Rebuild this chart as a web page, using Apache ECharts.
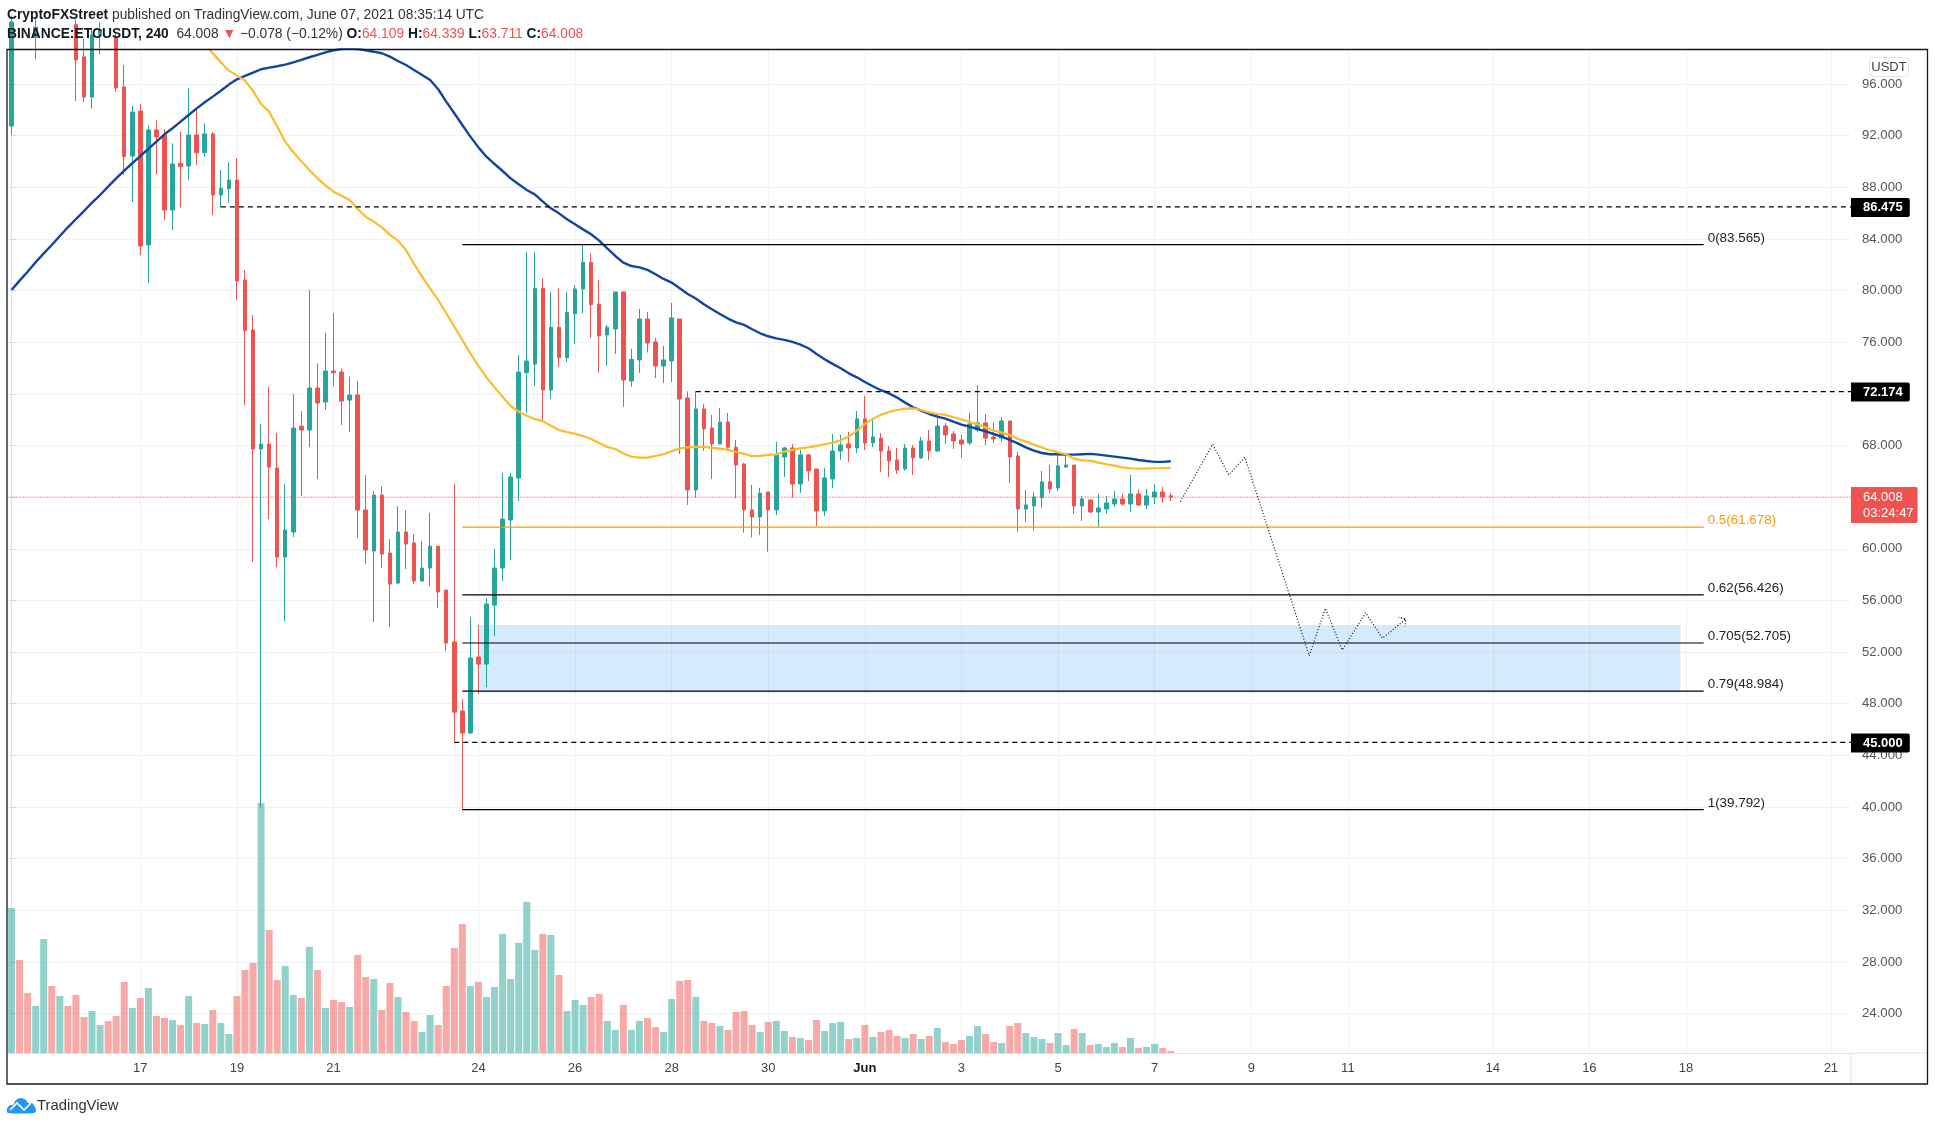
<!DOCTYPE html>
<html>
<head>
<meta charset="utf-8">
<title>ETCUSDT</title>
<script src="https://cdn.jsdelivr.net/npm/echarts@6/dist/echarts.min.js"></script>
<style>
html, body { margin: 0; padding: 0; background: #fff; }
#main { width: 1935px; height: 1126px; }
</style>
</head>
<body>
<div id="main"></div>
<script>
// 4h candles, May 14 08:00 -> Jun 7 08:00
var opens = [
    92.75, 100.8, 100.1, 99.6, 100.4, 102, 101.2, 101.8, 100.6, 98.1,
    94.99, 99.8, 100.2, 99.6, 95.77, 90.42, 93.9, 83.53, 92.44, 92.05,
    86.24, 89.86, 89.65, 92.05, 90.68, 92.13, 87.4, 87.9, 88.56, 80.82,
    76.95, 67.73, 68.11, 66.25, 59.36, 61.3, 69.5, 69.2, 72.45, 71.37,
    73.77, 73.69, 71.52, 71.91, 63, 59.83, 64.16, 59.67, 57.35, 61.3,
    60.45, 57.5, 58.51, 60.2, 56.8, 52.78, 47.43, 45.73, 51.62, 51.07,
    55.64, 58.51, 62.23, 65.48, 73.64, 74.3, 80.17, 72.3, 77.15, 74.8,
    78.2, 80.12, 82.19, 78.95, 76.56, 77.02, 79.89, 73.0, 74.63, 77.8,
    76.02, 74.16, 74.55, 77.8, 71.68, 64.56, 70.83, 69.36, 68.12, 69.82,
    67.86, 66.57, 63.01, 62.47, 64.4, 63.01, 67.11, 67.81, 65.02, 67.27,
    66.18, 62.93, 65.41, 67.58, 68.12, 67.81, 70.06, 68.2, 68.58, 67.58,
    66.88, 66.18, 67.81, 67.04, 68.35, 67.58, 69.51, 68.89, 68.43, 68.2,
    69.2, 69.75, 68.66, 68.58, 69.9, 67.19, 63.08, 63.32, 63.96, 65.18,
    64.71, 66.34, 66.49, 63.32, 63.78, 62.85, 63.08, 63.47, 63.86, 63.47,
    64.25, 63.39, 64.01, 64.4, 64.109
];
var closes = [
    100.8, 100.1, 99.6, 100.4, 102, 101.2, 101.8, 100.6, 97.86, 94.99,
    99.8, 100.2, 99.6, 95.69, 90.37, 93.83, 83.45, 92.44, 91.9, 86.24,
    89.8, 89.6, 92.05, 90.68, 92.13, 87.4, 87.92, 88.56, 80.74, 76.9,
    67.73, 68.11, 66.33, 59.36, 61.45, 69.35, 69.2, 72.45, 71.29, 73.77,
    73.64, 71.44, 71.91, 63, 59.9, 64.16, 59.6, 57.27, 61.3, 60.37,
    57.5, 58.51, 60.2, 56.65, 52.7, 47.35, 45.73, 51.54, 51.07, 55.72,
    58.51, 62.3, 65.56, 73.69, 74.54, 80.17, 72.3, 77.15, 74.8, 78.3,
    80.12, 82.19, 78.9, 76.5, 77.15, 79.89, 73.07, 74.67, 77.8, 75.94,
    74.16, 74.63, 77.88, 71.6, 64.56, 70.83, 69.28, 68.12, 69.82, 67.86,
    66.49, 63.01, 62.47, 64.3, 63.01, 67.27, 67.81, 65.02, 67.27, 66.03,
    62.93, 65.49, 67.58, 68.04, 67.81, 70.06, 68.2, 68.66, 67.58, 66.8,
    66.1, 67.81, 67.04, 68.35, 67.58, 69.51, 68.82, 68.35, 68.12, 69.67,
    69.75, 68.58, 68.51, 69.9, 67.11, 63.08, 63.4, 64.02, 65.18, 64.63,
    66.42, 66.49, 63.32, 63.86, 62.85, 63.16, 63.55, 63.86, 63.47, 64.25,
    63.39, 64.09, 64.4, 64.01, 64.008
];
var lows = [
    92.05, 99.5, 99.1, 97.94, 100, 100.7, 100.8, 100, 94.68, 94.6,
    94.09, 98.3, 99.2, 95.38, 88.95, 86.86, 82.76, 80.59, 89, 85.46,
    84.69, 86.45, 88.56, 89.72, 90.35, 85.85, 86.45, 86.81, 79.27, 71.13,
    58.97, 39.95, 62.3, 58.59, 54.4, 60.91, 64.09, 67.88, 65.4, 70.75,
    72.6, 69.58, 69.04, 60.83, 58.82, 54.33, 58.51, 53.94, 57.27, 58.43,
    57.27, 57.5, 57.1, 55.41, 52.08, 45, 39.82, 45.68, 48.75, 49.29,
    53.24, 57.5, 59.13, 63.7, 70.54, 72.6, 69.97, 71.6, 74.1, 74.47,
    75.86, 78.24, 76.35, 73.64, 74.18, 75.1, 71, 72.55, 73.62, 75.2,
    73.23, 72.85, 72.92, 67.35, 63.4, 63.96, 67.58, 65.41, 68.12, 67.66,
    63.91, 61.25, 60.87, 61.07, 59.78, 62.62, 65.56, 63.96, 64.33, 65.25,
    61.77, 62.54, 64.71, 66.88, 66.73, 67.42, 67.66, 67.89, 65.95, 65.56,
    65.8, 66.03, 65.72, 66.96, 66.88, 67.5, 68.12, 67.73, 67.04, 68.04,
    69.05, 68.04, 68.2, 68.28, 65.1, 61.31, 62.08, 61.41, 63.16, 64.33,
    64.48, 66.26, 62.7, 62.16, 62.78, 61.67, 62.7, 63.24, 63.32, 62.85,
    63.32, 63.08, 63.47, 63.55, 63.711
];
var highs = [
    101.3, 101.5, 101, 101, 102.6, 102.4, 102.2, 102, 101, 99.5,
    100.3, 100.8, 100.6, 100, 97.47, 94.3, 94.45, 92.8, 93.2, 92.49,
    91.4, 92.3, 95.69, 94.1, 92.95, 92.28, 89.34, 89.93, 90.27, 81.6,
    78.1, 69.66, 72.55, 68.97, 65, 71.99, 70.67, 80.05, 74.36, 76.74,
    78.24, 73.97, 73.33, 72.99, 65.71, 64.47, 64.86, 60.75, 63.3, 63,
    61.14, 60.6, 62.77, 60.2, 56.8, 65, 48.36, 54.71, 54.1, 56.19,
    59.98, 65.87, 65.87, 75, 82.99, 82.99, 80.95, 79.89, 80.17, 79.89,
    80.43, 83.53, 82.88, 80.82, 77.33, 79.89, 79.89, 75.5, 78.58, 78.35,
    76.33, 75.71, 79.04, 77.8, 72.2, 72.2, 71.22, 70.37, 70.91, 70.52,
    68.43, 66.65, 64.95, 64.71, 64.4, 68.28, 67.91, 68.12, 67.66, 67.35,
    66.18, 66.26, 68.89, 68.82, 69.05, 70.68, 71.84, 69.98, 68.97, 67.97,
    67.81, 68.12, 68.04, 68.66, 69.2, 70.37, 69.75, 69.13, 68.82, 70.52,
    72.69, 70.44, 69.82, 70.21, 69.9, 67.5, 64.56, 64.4, 66.03, 66.49,
    67.4, 67.27, 66.49, 64.09, 63.78, 64.25, 64.09, 64.48, 64.25, 65.72,
    64.63, 64.63, 65.02, 64.79, 64.339
];
var volumes = [
    145, 93, 60, 47, 114, 67, 57, 47, 58, 36,
    42, 28, 32, 37, 71, 45, 55, 65, 37, 35,
    33, 28, 57, 30, 29, 43, 30, 19, 57, 83,
    90, 250, 123, 73, 87, 58, 55, 106, 83, 45,
    53, 51, 46, 98, 76, 74, 43, 70, 56, 41,
    32, 21, 38, 28, 67, 105, 129, 67, 71, 56,
    66, 119, 74, 110, 151, 103, 119, 118, 78, 42,
    53, 48, 56, 59, 32, 23, 48, 23, 32, 35,
    26, 21, 54, 72, 73, 56, 32, 30, 27, 23,
    41, 42, 28, 21, 31, 32, 22, 16, 15, 13,
    33, 22, 30, 31, 14, 15, 28, 16, 21, 23,
    17, 15, 19, 14, 17, 25, 11, 9, 13, 17,
    27, 19, 11, 10, 27, 30, 20, 16, 14, 10,
    20, 8, 24, 20, 8, 9, 6, 10, 6, 15,
    5, 6, 9, 5, 2
];
var blueAvg = [
    80.04, 80.77, 81.46, 82.19, 82.88, 83.53, 84.23, 84.90, 85.54, 86.16,
    86.81, 87.40, 88.05, 88.69, 89.29, 89.86, 90.42, 90.97, 91.53, 92.10,
    92.57, 93.08, 93.60, 94.11, 94.58, 95.02, 95.48, 95.95, 96.36, 96.62,
    96.88, 97.14, 97.27, 97.37, 97.50, 97.68, 97.86, 98.07, 98.25, 98.45,
    98.61, 98.71, 98.74, 98.71, 98.61, 98.50, 98.38, 98.12, 97.78, 97.47,
    97.08, 96.70, 96.31, 95.59, 94.63, 93.73, 92.82, 91.92, 91.09, 90.37,
    89.80, 89.26, 88.69, 88.23, 87.79, 87.45, 86.89, 86.37, 85.98, 85.52,
    85.13, 84.74, 84.36, 83.87, 83.27, 82.68, 82.16, 81.90, 81.80, 81.60,
    81.26, 80.90, 80.62, 80.18, 79.74, 79.38, 78.94, 78.55, 78.19, 77.83,
    77.54, 77.34, 77.00, 76.69, 76.46, 76.30, 76.18, 76.02, 75.81, 75.53,
    75.09, 74.68, 74.32, 73.98, 73.59, 73.28, 72.92, 72.59, 72.28, 72.04,
    71.71, 71.32, 70.96, 70.70, 70.44, 70.24, 70.08, 69.85, 69.62, 69.46,
    69.28, 69.10, 68.89, 68.69, 68.43, 68.17, 67.86, 67.60, 67.42, 67.32,
    67.32, 67.29, 67.29, 67.32, 67.35, 67.29, 67.22, 67.14, 67.06, 66.98,
    66.88, 66.80, 66.73, 66.73, 66.78
];
// above the top of the chart until bar 24
var orangeAvg = [
    null, null, null, null, null, null, null, null, null, null,
    null, null, null, null, null, null, null, null, null, null,
    null, null, null, null, 99.07, 98.38, 97.68, 97.03, 96.65, 96.26,
    95.46, 94.45, 93.86, 92.70, 91.53, 90.71, 90.01, 89.34, 88.69, 88.13,
    87.66, 87.35, 87.02, 86.32, 85.72, 85.34, 84.90, 84.31, 83.87, 83.14,
    82.06, 81.08, 80.17, 79.27, 78.24, 77.21, 76.17, 75.14, 74.16, 73.28,
    72.50, 71.78, 71.06, 70.62, 70.31, 70.05, 69.89, 69.53, 69.20, 69.04,
    68.91, 68.73, 68.50, 68.19, 67.88, 67.73, 67.39, 67.13, 67.06, 67.06,
    67.19, 67.32, 67.55, 67.78, 67.86, 67.89, 67.89, 67.81, 67.76, 67.66,
    67.50, 67.35, 67.17, 67.19, 67.27, 67.32, 67.53, 67.66, 67.78, 67.86,
    67.97, 68.10, 68.22, 68.40, 68.69, 69.15, 69.67, 70.06, 70.39, 70.60,
    70.75, 70.86, 70.88, 70.75, 70.57, 70.44, 70.37, 70.19, 70.03, 69.82,
    69.64, 69.41, 69.15, 69.00, 68.82, 68.51, 68.30, 68.07, 67.84, 67.63,
    67.47, 67.32, 66.98, 66.85, 66.83, 66.67, 66.55, 66.44, 66.31, 66.24,
    66.21, 66.21, 66.24, 66.24, 66.26
];

// time scale
var barSlots = 229;
var dateSlots = [16, 28, 40, 58, 70, 82, 94, 106, 118, 130, 142, 154, 166, 184, 196, 208, 226];
var dateLabels = ['17', '19', '21', '24', '26', '28', '30', 'Jun', '3', '5', '7', '9', '11', '14', '16', '18', '21'];

// price scale
var priceMin = 20.95;
var priceMax = 98.67;
var priceTicks = [24, 28, 32, 36, 40, 44, 48, 52, 56, 60, 64, 68, 72, 76, 80, 84, 88, 92, 96];
var volumeMax = 1003.5;

// fib retracement drawn on the chart
var fibRatios = ['0', '0.5', '0.62', '0.705', '0.79', '1'];
var fibPrices = [83.565, 61.678, 56.426, 52.705, 48.984, 39.792];
var fibColors = ['#000', '#ff9800', '#000', '#000', '#000', '#000'];
var fibStart = 56;
var fibEnd = 210.2;

// dashed levels with their price badge
var levelPrices = [86.475, 72.174, 45];
var levelStarts = [26, 85, 55];

var lastPrice = 64.008;
var lastCountdown = '03:24:47';

// blue demand box
var zoneLeft = 58.2;
var zoneRight = 207.3;
var zoneTop = 54.1;
var zoneBottom = 48.85;

// hand drawn projection after the last candle
var pathSlots = [145.2, 149.2, 151.2, 153.2, 161.2, 163.2, 165.3, 168.2, 170.3, 173.2, 172.3, 173.2, 173.1];
var pathPrices = [63.65, 68.09, 65.72, 67.09, 51.72, 55.39, 52.16, 55.05, 53.07, 54.56, 54.69, 54.56, 53.97];

var UP = '#26a69a';
var DOWN = '#ef5350';
var FONT = '"Liberation Sans", Arial, sans-serif';

var chartDom = document.getElementById('main');
var myChart = echarts.init(chartDom);

var slotNames = [];
for (var i = 0; i < barSlots; i++) {
    var at = dateSlots.indexOf(i);
    slotNames.push(at >= 0 ? dateLabels[at] : '');
}
function isDateSlot(index) {
    return dateSlots.indexOf(index) >= 0;
}

var candleData = opens.map(function (o, i) {
    return [o, closes[i], lows[i], highs[i]];
});
var volumeData = volumes.map(function (v, i) {
    return {
        value: v,
        itemStyle: { color: closes[i] >= opens[i] ? UP : DOWN, opacity: 0.5 }
    };
});

var series = [];

series.push({
    type: 'bar',
    name: 'volume',
    xAxisIndex: 0,
    yAxisIndex: 1,
    data: volumeData,
    barWidth: 7,
    z: 2
});

series.push({
    type: 'line',
    name: 'zone',
    xAxisIndex: 1,
    yAxisIndex: 0,
    data: [[zoneLeft, zoneTop], [zoneRight, zoneBottom]],
    showSymbol: false,
    lineStyle: { opacity: 0 },
    z: 1,
    markArea: {
        silent: true,
        itemStyle: { color: 'rgba(33,150,243,0.19)' },
        data: [[{ xAxis: zoneLeft, yAxis: zoneTop }, { xAxis: zoneRight, yAxis: zoneBottom }]]
    }
});

series.push({
    type: 'candlestick',
    name: 'ETCUSDT',
    xAxisIndex: 0,
    yAxisIndex: 0,
    data: candleData,
    barWidth: 4,
    itemStyle: { color: UP, color0: DOWN, borderColor: UP, borderColor0: DOWN, borderWidth: 1 },
    z: 3
});

series.push({
    type: 'line', name: 'slow avg', xAxisIndex: 0, yAxisIndex: 0, data: blueAvg,
    showSymbol: false, lineStyle: { color: '#0d47a1', width: 2.4 }, z: 4
});
series.push({
    type: 'line', name: 'fast avg', xAxisIndex: 0, yAxisIndex: 0, data: orangeAvg,
    showSymbol: false, lineStyle: { color: '#fdbb2d', width: 2.2 }, z: 4
});

fibPrices.forEach(function (p, i) {
    series.push({
        type: 'line',
        name: 'fib ' + fibRatios[i],
        xAxisIndex: 1,
        yAxisIndex: 0,
        data: [[fibStart, p], [fibEnd, p]],
        showSymbol: false,
        lineStyle: { color: fibColors[i], width: 1.2 },
        z: 5,
        endLabel: {
            show: true,
            formatter: fibRatios[i] + '(' + p.toFixed(3) + ')',
            color: i === 1 ? fibColors[i] : '#222',
            fontFamily: FONT,
            fontSize: 13.4,
            distance: 4,
            offset: [0, -6.5]
        }
    });
});

levelPrices.forEach(function (p, i) {
    series.push({
        type: 'line',
        name: 'level ' + p,
        xAxisIndex: 1,
        yAxisIndex: 0,
        data: [[levelStarts[i], p], [barSlots - 0.5, p]],
        showSymbol: false,
        lineStyle: { color: '#000', width: 1.2, type: [5, 4] },
        z: 5,
        endLabel: {
            show: true,
            formatter: p.toFixed(3),
            color: '#fff',
            fontFamily: FONT,
            fontSize: 13,
            fontWeight: 'bold',
            distance: 0,
            backgroundColor: '#000',
            borderRadius: [0, 2, 2, 0],
            padding: [4, 7, 2, 12],
            lineHeight: 13,
            offset: [0, 0.5]
        }
    });
});

series.push({
    type: 'line',
    name: 'last price',
    xAxisIndex: 1,
    yAxisIndex: 0,
    data: [[-0.5, lastPrice], [barSlots - 0.5, lastPrice]],
    showSymbol: false,
    lineStyle: { color: DOWN, width: 1, type: [1, 2] },
    z: 5,
    endLabel: {
        show: true,
        formatter: lastPrice.toFixed(3) + '\n' + lastCountdown,
        color: '#fff',
        fontFamily: FONT,
        fontSize: 13,
        distance: 0,
        offset: [0, 8],
        align: 'left',
        backgroundColor: DOWN,
        borderRadius: [0, 2, 2, 0],
        padding: [4, 4, 0, 12],
        lineHeight: 16
    }
});

series.push({
    type: 'line',
    name: 'projection',
    xAxisIndex: 1,
    yAxisIndex: 0,
    data: pathSlots.map(function (s, i) { return [s, pathPrices[i]]; }),
    showSymbol: false,
    lineStyle: { color: '#111', width: 1.2, type: [1, 2] },
    z: 5
});

var option = {
    animation: false,
    backgroundColor: '#fff',
    textStyle: { fontFamily: FONT },
    title: [{
        left: 7,
        top: 8,
        padding: 0,
        text: '{b|CryptoFXStreet} published on TradingView.com, June 07, 2021 08:35:14 UTC',
        textStyle: {
            fontFamily: FONT, fontSize: 13.8, fontWeight: 'normal', color: '#333',
            rich: { b: { fontFamily: FONT, fontSize: 13.8, fontWeight: 'bold', color: '#131722' } }
        }
    }, {
        left: 7,
        top: 27,
        padding: 0,
        text: '{b|BINANCE:ETCUSDT, 240}  64.008 {r|▼} −0.078 (−0.12%) {b|O:}{r|64.109} {b|H:}{r|64.339} {b|L:}{r|63.711} {b|C:}{r|64.008}',
        textStyle: {
            fontFamily: FONT, fontSize: 13.8, fontWeight: 'normal', color: '#333',
            rich: {
                b: { fontFamily: FONT, fontSize: 13.8, fontWeight: 'bold', color: '#131722' },
                r: { fontFamily: FONT, fontSize: 13.8, color: DOWN }
            }
        }
    }],
    grid: { left: 7.5, top: 49.5, width: 1843.5, height: 1003.5, containLabel: false },
    xAxis: [{
        type: 'category',
        data: slotNames,
        axisLine: { lineStyle: { color: '#e0e3eb' } },
        axisTick: { alignWithLabel: true, interval: function (i) { return isDateSlot(i); }, length: 4, lineStyle: { color: '#d0d3db' } },
        axisLabel: {
            interval: function (i) { return isDateSlot(i); },
            margin: 9,
            color: '#444',
            fontSize: 13,
            fontFamily: FONT,
            formatter: function (v) { return v === 'Jun' ? '{b|Jun}' : v; },
            rich: { b: { fontWeight: 'bold', fontSize: 13, color: '#131722', fontFamily: FONT } }
        },
        splitLine: {
            show: true,
            alignWithLabel: true,
            interval: function (i) { return isDateSlot(i); },
            lineStyle: { color: '#f0f1f4' }
        }
    }, {
        type: 'value',
        min: -0.5,
        max: barSlots - 0.5,
        show: false,
        splitLine: { show: false }
    }],
    yAxis: [{
        type: 'value',
        position: 'right',
        min: priceMin,
        max: priceMax,
        axisLine: { show: true, lineStyle: { color: '#e0e3eb' } },
        axisTick: { show: true, customValues: priceTicks, length: 5, lineStyle: { color: '#d0d3db' } },
        axisLabel: {
            customValues: priceTicks,
            margin: 11,
            color: '#555',
            fontSize: 13.2,
            fontFamily: FONT,
            padding: [3, 0, 0, 0],
            formatter: function (v) { return v.toFixed(3); }
        },
        splitLine: { show: true, lineStyle: { color: '#f0f1f4' } }
    }, {
        type: 'value',
        min: 0,
        max: volumeMax,
        show: false,
        splitLine: { show: false }
    }],
    series: series,
    graphic: [
        // frame and axis extensions
        { type: 'rect', silent: true, z: 100, shape: { x: 7, y: 49.5, width: 1920.5, height: 1034.5 }, style: { fill: null, stroke: '#131722', lineWidth: 1.3 } },
        { type: 'line', silent: true, z: 1, shape: { x1: 1851, y1: 1053, x2: 1927, y2: 1053 }, style: { stroke: '#e0e3eb', lineWidth: 1 } },
        { type: 'line', silent: true, z: 1, shape: { x1: 1851, y1: 1053, x2: 1851, y2: 1084 }, style: { stroke: '#e0e3eb', lineWidth: 1 } },
        // currency tag
        { type: 'rect', silent: true, z: 50, shape: { x: 1869.5, y: 57.5, width: 39, height: 19, r: 4 }, style: { fill: '#fff', stroke: '#e0e3eb', lineWidth: 1 } },
        { type: 'text', silent: true, z: 51, style: { x: 1889, y: 67, text: 'USDT', fill: '#444', font: '13px ' + FONT, textAlign: 'center', textVerticalAlign: 'middle' } },
        // logo
        { type: 'polygon', silent: true, z: 50, x: 7, y: 1097, shape: { points: [[1, 16], [0, 12], [3, 8], [6, 8], [9, 3], [14, 1], [19, 3], [21, 6], [25, 6], [28, 10], [29, 14], [27, 16]], smooth: 0.3 }, style: { fill: '#2196f3' } },
        { type: 'polyline', silent: true, z: 51, x: 7, y: 1097, shape: { points: [[3, 13], [10, 6], [17, 13], [24, 6]] }, style: { stroke: '#fff', fill: null, lineWidth: 1.6 } },
        { type: 'text', silent: true, z: 51, style: { x: 37, y: 1105.5, text: 'TradingView', fill: '#333', font: '14.8px ' + FONT, textVerticalAlign: 'middle' } }
    ]
};

option && myChart.setOption(option);
</script>
</body>
</html>
